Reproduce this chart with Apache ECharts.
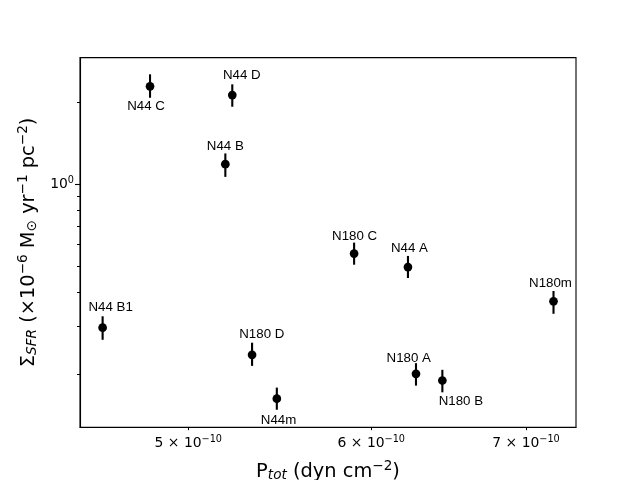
<!DOCTYPE html>
<html><head><meta charset="utf-8">
<script src="https://cdn.jsdelivr.net/npm/echarts@6/dist/echarts.min.js"></script>
<style>html,body{margin:0;padding:0;background:#fff}#c{width:640px;height:480px}</style>
</head><body><div id="c"></div>
<script>
// ---- data ----
const regions  = ['N44 C','N44 D','N44 B','N180 C','N44 A','N180m','N44 B1','N180 D','N44m','N180 A','N180 B'];
const pressure = [4.813e-10, 5.224e-10, 5.188e-10, 5.898e-10, 6.223e-10, 7.194e-10, 4.591e-10, 5.328e-10, 5.461e-10, 6.273e-10, 6.440e-10];
const sfr      = [2.294, 2.130, 1.185, 0.555, 0.495, 0.370, 0.296, 0.235, 0.162, 0.200, 0.189];
const sfrLow   = [2.082, 1.929, 1.064, 0.505, 0.451, 0.333, 0.267, 0.214, 0.1475, 0.181, 0.171];
const sfrHigh  = [2.540, 2.333, 1.298, 0.609, 0.544, 0.404, 0.326, 0.2605, 0.178, 0.219, 0.207];
const xTickValues = [5e-10, 6e-10, 7e-10];
const xTickLabels = ['{m|5 × 10}{s|−10}', '{m|6 × 10}{s|−10}', '{m|7 × 10}{s|−10}'];
const yMajorTicks = [1];
const yMajorLabels = ['{m|10}{s|0}'];
const yMinorTicks = [0.2, 0.3, 0.4, 0.5, 0.6, 0.7, 0.8, 0.9, 2];
const xRange = [4.4887e-10, 7.357e-10];
const yRange = [0.1272, 2.927];

// ---- layout (label offsets in px, relative to marker) ----
const labelOffsets = [[-4,20.5],[9.5,-19.5],[0,-17.5],[0.5,-17.5],[1.5,-18.5],[-3,-18],[8,-20],[9.7,-21],[1.7,21.7],[-7.2,-15.5],[18.5,20.7]];

const FONT = 'DejaVu Sans';
const tickRich = {
  m: {fontFamily: FONT, fontSize: 13.9, color: '#000'},
  s: {fontFamily: FONT, fontSize: 9.7, color: '#000', padding: [0, 0, 8, 0]}
};
const nameRich = {
  n: {fontFamily: FONT, fontSize: 19.4, color: '#000'},
  sub: {fontFamily: FONT, fontSize: 13.6, fontStyle: 'italic', color: '#000', padding: [7, 0, 0, 0]},
  sub2: {fontFamily: FONT, fontSize: 13.6, color: '#000', padding: [7, 0, 0, 0]},
  sup: {fontFamily: FONT, fontSize: 13.6, color: '#000', padding: [0, 0, 11, 0]}
};
function pick(values, labels, v) {
  let best = 0;
  values.forEach((t, i) => { if (Math.abs(Math.log(t) - Math.log(v)) < Math.abs(Math.log(values[best]) - Math.log(v))) best = i; });
  return labels[best];
}

const chart = echarts.init(document.getElementById('c'), null, {renderer: 'canvas'});
chart.setOption({
  animation: false,
  backgroundColor: '#fff',
  grid: {left: 80, right: 64, top: 57.6, bottom: 52.8, containLabel: false, outerBoundsMode: 'none',
         show: true, borderColor: '#000', borderWidth: 1.1, backgroundColor: 'transparent'},
  xAxis: {
    type: 'log', logBase: 10, min: xRange[0], max: xRange[1],
    axisLine: {show: true, lineStyle: {color: '#000', width: 1.1}},
    axisTick: {show: true, customValues: xTickValues, length: 3, lineStyle: {color: '#000', width: 1}},
    axisLabel: {customValues: xTickValues, margin: 7, formatter: v => pick(xTickValues, xTickLabels, v), rich: tickRich},
    splitLine: {show: false}, minorTick: {show: false}, minorSplitLine: {show: false},
    name: '{n|P}{sub|tot}{n| (dyn cm}{sup|−2}{n|)}',
    nameLocation: 'middle', nameGap: 32,
    nameTextStyle: {rich: nameRich}
  },
  yAxis: [{
    type: 'log', logBase: 10, min: yRange[0], max: yRange[1], position: 'left',
    axisLine: {show: true, lineStyle: {color: '#000', width: 1.1}},
    axisTick: {show: true, customValues: yMajorTicks, length: 5, lineStyle: {color: '#000', width: 1.1}},
    axisLabel: {customValues: yMajorTicks, margin: 6, formatter: v => pick(yMajorTicks, yMajorLabels, v), rich: tickRich},
    splitLine: {show: false}, minorTick: {show: false}, minorSplitLine: {show: false},
    name: '{n|Σ}{sub|SFR}{n| (×10}{sup|−6}{n| M}{sub2|⊙}{n| yr}{sup|−1}{n| pc}{sup|−2}{n|)}',
    nameLocation: 'middle', nameGap: 34, nameRotate: 90,
    nameTextStyle: {rich: nameRich}
  }, {
    type: 'log', logBase: 10, min: yRange[0], max: yRange[1], position: 'left', offset: 0,
    axisLine: {show: false},
    axisTick: {show: true, customValues: yMinorTicks, length: 3, lineStyle: {color: '#000', width: 1}},
    axisLabel: {show: false},
    splitLine: {show: false}, minorTick: {show: false}
  }],
  series: [{
    type: 'custom',
    data: regions.map((r, i) => [pressure[i], sfrLow[i], sfrHigh[i]]),
    encode: {x: 0, y: [1, 2]},
    renderItem: (params, api) => {
      const lo = api.coord([api.value(0), api.value(1)]);
      const hi = api.coord([api.value(0), api.value(2)]);
      return {type: 'line', shape: {x1: lo[0], y1: lo[1], x2: hi[0], y2: hi[1]}, style: {stroke: '#000', lineWidth: 2.1}};
    },
    z: 2, silent: true
  }, {
    type: 'scatter',
    data: regions.map((r, i) => ({value: [pressure[i], sfr[i]], label: {offset: labelOffsets[i]}})),
    symbol: 'circle', symbolSize: 8.7,
    itemStyle: {color: '#000', opacity: 1},
    label: {show: true, position: 'inside', formatter: p => regions[p.dataIndex], color: '#000', fontFamily: 'Liberation Sans', fontSize: 13.3},
    emphasis: {disabled: true},
    z: 3
  }]
});
</script></body></html>
